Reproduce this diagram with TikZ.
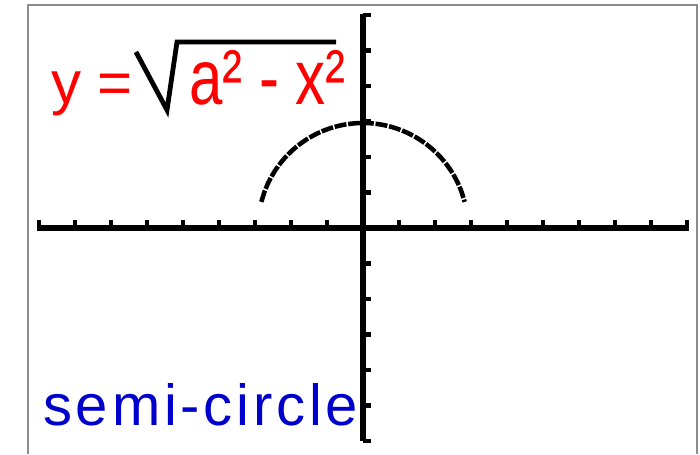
\documentclass[tikz,border=0pt]{standalone}
\usepackage{fontspec}
\setmainfont{Liberation Sans}
\usetikzlibrary{positioning}
\definecolor{rouge}{HTML}{FF0000}
\definecolor{bleu}{HTML}{0000CC}
\definecolor{cadre}{HTML}{8C8C8C}

\begin{document}
\begin{tikzpicture}[x=0.75pt,y=-0.75pt,
  axe/.style={line width=3.8pt},
  graduation/.style={line width=3.2pt},
  courbe/.style={line width=3.4pt,dash pattern=on 9pt off 1.3pt},
  racine/.style={line width=3.6pt,line join=miter},
  formule/.style={inner sep=0pt,anchor=base west,text=rouge,font=\fontsize{45}{45}\selectfont},
  legende/.style={inner sep=0pt,anchor=base west,text=bleu,font=\fontsize{43.5}{44}\selectfont\addfontfeatures{LetterSpace=6.5}}]
  \useasboundingbox (0,0) rectangle (700,454);
  \draw[cadre,line width=1.5pt] (28,454) -- (28,5) -- (697,5) -- (697,454);
  % axes et graduations
  \begin{scope}[shift={(363,228)}]
    \coordinate (O) at (0,0);
    \draw[axe] (-326,0) -- (326,0);
    \draw[axe] (0,-214) -- (0,213);
    \foreach \i in {-9,...,-1,1,2,...,9}
      \draw[graduation] (\i*36,0) -- (\i*36,-8);
    \foreach \j in {-6,...,-1,1,2,...,6}
      \draw[graduation] (0,\j*35.5) -- (8,\j*35.5);
    \draw[courbe] plot[domain=-101.7:101.7,samples=61] (\x,{-sqrt(11025-\x*\x)});
  \end{scope}
  % formule
  \node[formule] (gauche) at (51,103) {y =};
  \draw[racine] (136,52) -- (167,110) -- (177,42) -- (336,42);
  \node[formule] (radicande) at (189,104) {\scalebox{1}[1.3]{a² - x²}};
  \node[legende] (titre) at (43,425) {semi-circle};
\end{tikzpicture}
\end{document}
